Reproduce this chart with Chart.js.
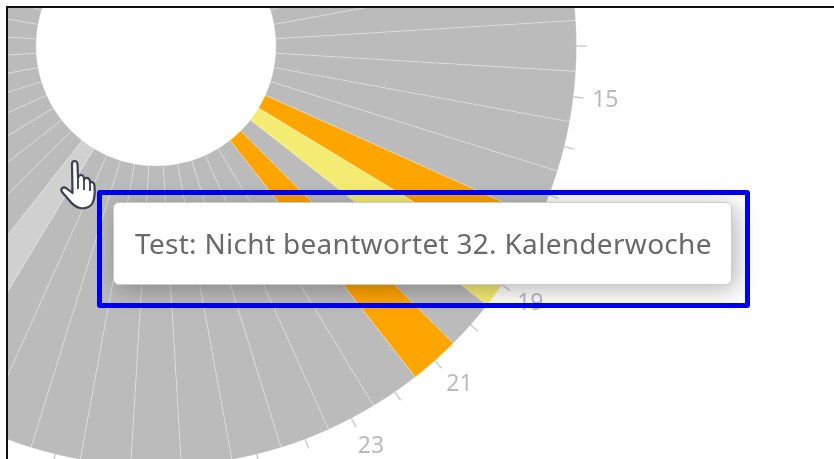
<!DOCTYPE html>
<html>
<head>
<meta charset="utf-8">
<script src="https://cdn.jsdelivr.net/npm/chart.js@4/dist/chart.umd.js"></script>
<style>
    html, body { margin: 0; padding: 0; background: #fff; overflow: hidden; }
    body { width: 834px; height: 459px; position: relative; font-family: "Noto Sans", sans-serif; }
    #frame { position: absolute; left: 6px; top: 6px; right: 0; bottom: 0; border-left: 2px solid #111; border-top: 2px solid #111; overflow: hidden; }
    #wheel { position: absolute; left: -332px; top: -442px; }
    #tip { position: absolute; left: 113px; top: 202px; width: 619px; height: 83px; box-sizing: border-box;
           background: #fff; border: 1px solid #ccc; border-radius: 6px; box-shadow: 4px 4px 24px rgba(0,0,0,0.3);
           color: #6a6a6a; font-size: 28px; letter-spacing: 0.3px; line-height: 81px; padding-left: 21px; white-space: nowrap; }
    #mark { position: absolute; left: 97px; top: 190px; width: 653px; height: 118px; box-sizing: border-box;
            border: 5px solid #0000f0; border-radius: 3px; }
    #hand { position: absolute; left: 58px; top: 158px; }
</style>
</head>
<body>
<div id="frame"><canvas id="wheel" width="960" height="960"></canvas></div>
<div id="tip"></div>
<div id="mark"></div>
<svg id="hand" width="42" height="54" viewBox="0 0 42 54">
    <path d="M14 6 C14 2 19 2 19.5 6 L20 20 C21 16 25 16 26 20 L26 22 C27 19 31 19 32 23 L32 25 C33 23 36.5 24 36.5 28 C37 34 37 41 34 46 C32 49 27 51 22 50 C17 49 14 46 11 42 L4 34 C2 31 5 28 8 30 L14.5 35 Z" fill="#fff" stroke="#3a4150" stroke-width="2.2" stroke-linejoin="round"/>
    <path d="M20 20 L20 31 M26 22 L26 32 M32 25 L32 33" fill="none" stroke="#3a4150" stroke-width="1.8"/>
</svg>

<script>
const weeks = ['1','2','3','4','5','6','7','8','9','10','11','12','13','14','15','16','17','18','19','20','21','22','23','24','25','26',
               '27','28','29','30','31','32','33','34','35','36','37','38','39','40','41','42','43','44','45','46','47','48','49','50','51','52'];
// 17 sits behind the tooltip in the picture, so it has no label here
const tickLabels = ['1','','3','','5','','7','','9','','11','','13','','15','','','','19','','21','','23','','25','',
                    '27','','29','','31','','33','','35','','37','','39','','41','','43','','45','','47','','49','','51',''];
const weekValues = [1,1,1,1,1,1,1,1,1,1,1,1,1,1,1,1,1,1,1,1,1,1,1,1,1,1,
                    1,1,1,1,1,1,1,1,1,1,1,1,1,1,1,1,1,1,1,1,1,1,1,1,1,1];
const weekStatus = ['n','n','n','n','n','n','n','n','n','n','n','n','n','n','n','n','n','o','y','n','o','n','n','n','n','n',
                    'n','n','n','n','n','h','n','n','n','n','n','n','n','n','n','n','n','n','n','n','n','n','n','n','n','n'];
const statusColors = { n: '#bbbbbb', o: '#ffa500', y: '#f5ec73', h: '#d0d0d0' };
const hoverWeek = 31;

// ticks and odd week numbers round the outside of the ring
const weekTicks = {
    id: 'weekTicks',
    afterDatasetsDraw(chart) {
        const c = chart.ctx;
        c.save();
        c.font = '23px "Noto Sans"';
        c.textAlign = 'center';
        c.textBaseline = 'middle';
        chart.getDatasetMeta(0).data.forEach((arc, i) => {
            const a = (arc.startAngle + arc.endAngle) / 2;
            const r = arc.outerRadius;
            c.strokeStyle = '#cccccc';
            c.lineWidth = 1.5;
            c.beginPath();
            c.moveTo(arc.x + Math.cos(a) * r, arc.y + Math.sin(a) * r);
            c.lineTo(arc.x + Math.cos(a) * (r + 10), arc.y + Math.sin(a) * (r + 10));
            c.stroke();
            if (tickLabels[i]) {
                // labels lean a little right below the centre
                const lean = 6 * Math.pow(Math.max(0, Math.sin(a)), 2);
                c.fillStyle = '#bbbbbb';
                c.fillText(tickLabels[i], arc.x + Math.cos(a) * (r + 32) + lean, arc.y + Math.sin(a) * (r + 32));
            }
        });
        c.restore();
    }
};

new Chart(document.getElementById('wheel'), {
    type: 'doughnut',
    data: {
        labels: weeks,
        datasets: [{
            data: weekValues,
            backgroundColor: weekStatus.map(s => statusColors[s]),
            borderColor: 'rgba(255,255,255,0.25)',
            borderWidth: 1
        }]
    },
    options: {
        responsive: false,
        animation: false,
        rotation: -360 / 52 / 2,
        cutout: '28.5%',
        layout: { padding: 59 },
        events: [],
        plugins: {
            legend: { display: false },
            tooltip: { enabled: false }
        }
    },
    plugins: [weekTicks]
});

document.getElementById('tip').textContent = 'Test: Nicht beantwortet ' + weeks[hoverWeek] + '. Kalenderwoche';
</script>
</body>
</html>
